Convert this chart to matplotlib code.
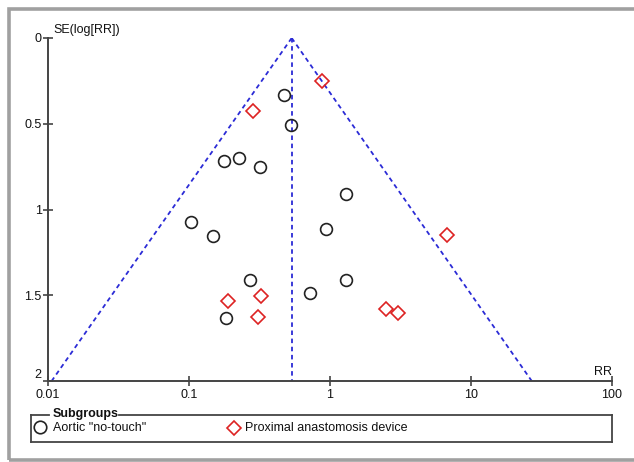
import numpy as np
import matplotlib
matplotlib.use("Agg")
import matplotlib.pyplot as plt
from matplotlib.lines import Line2D
from matplotlib.patches import Rectangle

plt.rcParams['font.family'] = ['Liberation Sans', 'DejaVu Sans']

# Aortic "no-touch" studies: risk ratio and SE(log RR)
rr_notouch = [0.47, 0.53, 0.177, 0.226, 0.319, 0.103, 0.148, 0.271, 0.183, 0.72, 1.30, 0.94, 1.30]
se_notouch = [0.33, 0.51, 0.72, 0.70, 0.75, 1.07, 1.155, 1.41, 1.63, 1.487, 0.91, 1.114, 1.41]

# Proximal anastomosis device studies
rr_device = [0.284, 0.877, 6.76, 0.189, 0.324, 0.308, 2.49, 3.03]
se_device = [0.426, 0.251, 1.149, 1.533, 1.505, 1.627, 1.58, 1.603]

pooled_rr = 0.535
se_max = 2.0
x_ticks = [0.01, 0.1, 1, 10, 100]
x_ticklabels = ['0.01', '0.1', '1', '10', '100']
y_ticks = [0, 0.5, 1, 1.5, 2]
y_ticklabels = ['0', '0.5', '1', '1.5', '2']

W, H = 634, 462
fig = plt.figure(figsize=(W / 100, H / 100), dpi=100)
ax = fig.add_axes([48 / W, 1 - 381 / H, (612 - 48) / W, (381 - 38) / H])

# funnel (pseudo 95% limits)
se_line = np.array([0, se_max])
blue = '#2b2bd6'
dash = (0, (2.5, 2))
ax.plot(pooled_rr * np.exp(-1.96 * se_line), se_line, color=blue, lw=1.3, ls=dash)
ax.plot(pooled_rr * np.exp(1.96 * se_line), se_line, color=blue, lw=1.3, ls=dash)
ax.plot([pooled_rr, pooled_rr], [0, se_max], color=blue, lw=1.3, ls=dash)

ax.plot(rr_notouch, se_notouch, 'o', ms=8.5, mfc='none', mec='#222222', mew=1.2, clip_on=False)
ax.plot(rr_device, se_device, 'D', ms=7, mfc='none', mec='#dd2222', mew=1.2, clip_on=False)

ax.set_xscale('log')
ax.set_xlim(0.01, 100)
ax.set_ylim(se_max, 0)
ax.set_xticks(x_ticks)
ax.set_xticklabels(x_ticklabels)
ax.set_yticks(y_ticks)
ax.set_yticklabels(y_ticklabels)
ax.minorticks_off()

for s in ['top', 'right']:
    ax.spines[s].set_visible(False)
for s in ['left', 'bottom']:
    ax.spines[s].set_color('#444444')
    ax.spines[s].set_linewidth(1.4)
ax.tick_params(axis='both', direction='inout', length=7, width=1.2, color='#444444',
               labelsize=9, labelcolor='#111111', pad=1)
ax.tick_params(axis='x', pad=2)
ax.get_yticklabels()[-1].set_va('bottom')

ax.text(53 / W, 1 - 30 / H, 'SE(log[RR])', transform=fig.transFigure, fontsize=9,
        ha='left', va='center', color='#111111')
ax.text(612 / W, 1 - 372 / H, 'RR', transform=fig.transFigure, fontsize=9,
        ha='right', va='center', color='#111111')

# legend box drawn by hand
def fx(px):
    return px / W

def fy(py):
    return 1 - py / H

lc = '#444444'
for xs, ys in [([31, 31], [415, 442]), ([31, 612], [442, 442]), ([612, 612], [415, 442]),
               ([31, 49], [415, 415]), ([119, 612], [415, 415])]:
    fig.add_artist(Line2D([fx(x) for x in xs], [fy(y) for y in ys], color=lc, lw=1.3))
fig.text(fx(53), fy(414), 'Subgroups', fontsize=9, fontweight='bold', ha='left', va='center',
         color='#111111')
fig.add_artist(Line2D([fx(40)], [fy(427)], marker='o', ms=9, mfc='none', mec='#222222', mew=1.2))
fig.text(fx(53), fy(428), 'Aortic "no-touch"', fontsize=9, ha='left', va='center', color='#111111')
fig.add_artist(Line2D([fx(234)], [fy(428)], marker='D', ms=7.5, mfc='none', mec='#dd2222', mew=1.2))
fig.text(fx(245), fy(428), 'Proximal anastomosis device', fontsize=9, ha='left', va='center',
         color='#111111')

# grey outer frame
fig.add_artist(Rectangle((fx(8.5), fy(459.5)), fx(640) - fx(8.5), fy(8.5) - fy(459.5),
                         transform=fig.transFigure, fill=False, ec='#a0a0a0', lw=2.6))

fig.savefig('out.png', dpi=100)
